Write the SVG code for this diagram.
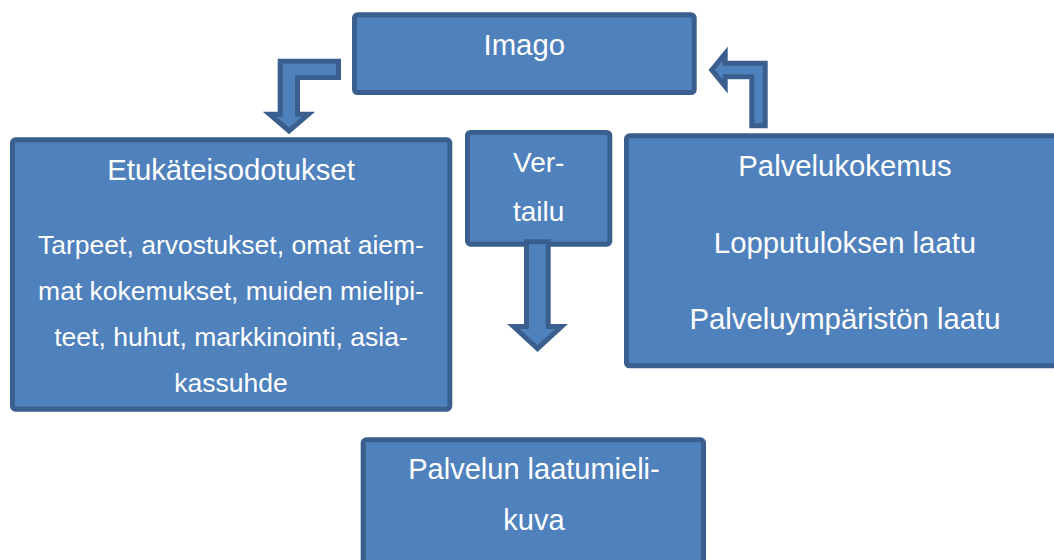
<svg xmlns="http://www.w3.org/2000/svg" width="1054" height="560" viewBox="0 0 1054 560">
<style>
.box{fill:#4F81BD;stroke:#3A5F8E;stroke-width:5}
.arr{fill:#4F81BD;stroke:#3A5F8E;stroke-width:5;stroke-linejoin:miter}
text{font-family:"Liberation Sans",Arial,sans-serif;fill:#FFFFFF;text-anchor:middle}
.h{font-size:29.3px}
.b{font-size:26.5px}
</style>
<rect width="1054" height="560" fill="#FFFFFF"/>
<g id="imago">
<rect class="box" x="354.5" y="14.8" width="339.7" height="77.7" rx="3"/>
<text class="h" x="524.3" y="55">Imago</text>
</g>
<g id="etukateisodotukset">
<rect class="box" x="12.5" y="139.8" width="437.3" height="269.4" rx="3"/>
<text class="h" x="231" y="180">Etukäteisodotukset</text>
<text class="b" x="231" y="254">Tarpeet, arvostukset, omat aiem-</text>
<text class="b" x="231" y="300">mat kokemukset, muiden mielipi-</text>
<text class="b" x="231" y="346">teet, huhut, markkinointi, asia-</text>
<text class="b" x="231" y="392">kassuhde</text>
</g>
<g id="vertailu">
<rect class="box" x="467.5" y="132.5" width="142.3" height="111.7" rx="3"/>
<text x="538.7" y="171.7" style="font-size:28px">Ver-</text>
<text x="538.7" y="221" style="font-size:28px">tailu</text>
</g>
<g id="palvelukokemus">
<rect class="box" x="626.5" y="135.8" width="440" height="230" rx="3"/>
<text class="h" x="845" y="176">Palvelukokemus</text>
<text class="h" x="845" y="252.7">Lopputuloksen laatu</text>
<text class="h" x="845" y="329.3">Palveluympäristön laatu</text>
</g>
<g id="laatumielikuva">
<rect class="box" x="363.2" y="439.8" width="340.3" height="140" rx="3"/>
<text x="534" y="479" style="font-size:29px">Palvelun laatumieli-</text>
<text x="534" y="530" style="font-size:29px">kuva</text>
</g>
<g id="connectors">
<path class="arr" d="M280.2,61.2 H338.5 V77.5 H297.5 V114.2 H308.5 L289,131 L269.5,114.2 H280.2 Z"/>
<path class="arr" d="M765.2,125.8 V63.2 H725.2 V53.5 L711.8,70 L725.2,86.5 V76.8 H751.8 V125.8 Z"/>
<path class="arr" d="M526.5,241.8 H548.2 V326.5 H561.5 L537.5,348.5 L513.5,326.5 H526.5 Z"/>
</g>
</svg>
